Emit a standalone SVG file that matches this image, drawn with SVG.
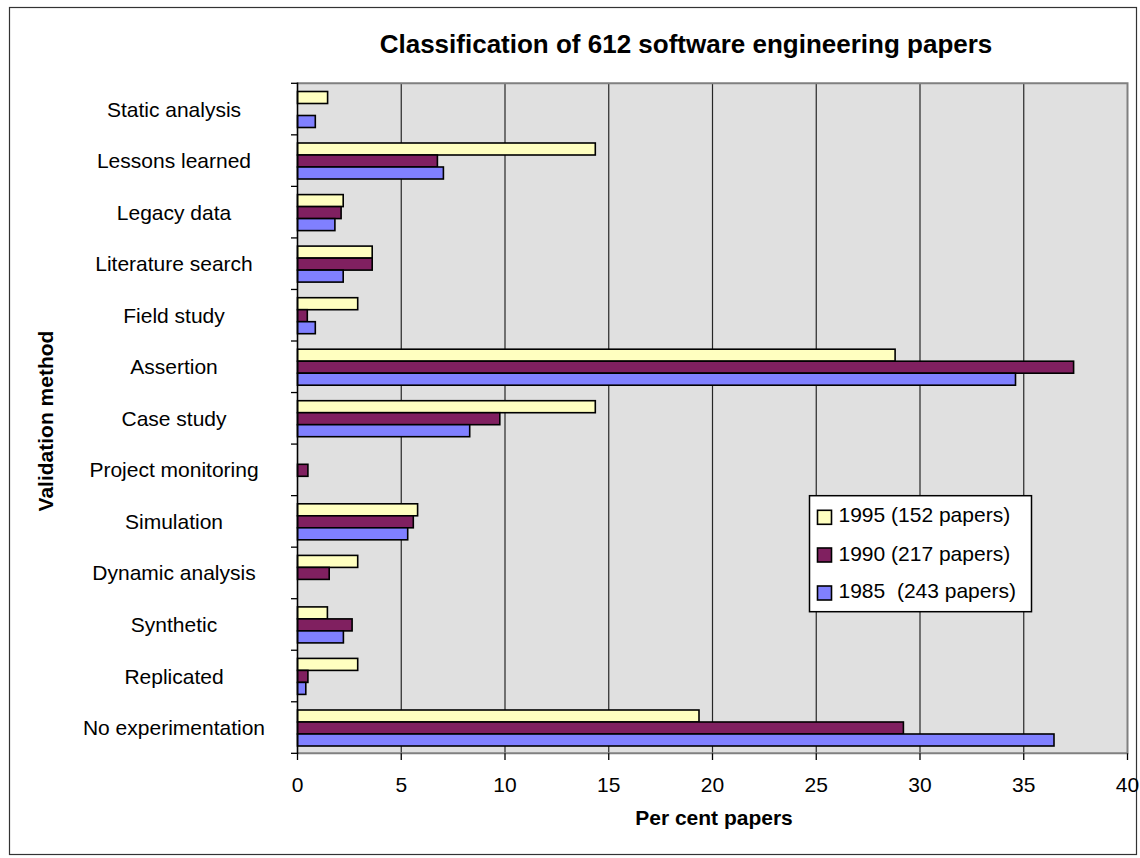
<svg xmlns="http://www.w3.org/2000/svg" width="1140" height="858" viewBox="0 0 1140 858">
  <style>
    .lbl { font-family: "Liberation Sans", Arial, sans-serif; font-size: 21px; fill: #000; }
    .cat { text-anchor: middle; }
    .num { text-anchor: middle; }
    .ttl { font-family: "Liberation Sans", Arial, sans-serif; font-weight: bold; fill: #000; }
    .grid { stroke: #262626; stroke-width: 1.2; }
    .tick { stroke: #000; stroke-width: 1.3; }
    .bar { stroke: #000; stroke-width: 1.6; }
    .y95 { fill: #FFFFC0; }
    .y90 { fill: #802060; }
    .y85 { fill: #8080FF; }
  </style>

  <!-- chart frame -->
  <rect x="0" y="0" width="1140" height="858" fill="#fff"/>
  <rect x="9.5" y="7.5" width="1127" height="847" fill="#fff" stroke="#333" stroke-width="1.2"/>

  <text class="ttl" x="686" y="52.5" font-size="26" text-anchor="middle">Classification of 612 software engineering papers</text>

  <!-- plot area -->
  <g id="plot-area">
    <rect x="297.5" y="83.3" width="830" height="670" fill="#E0E0E0"/>
    <g id="gridlines">
      <line class="grid" x1="401.25" y1="83.3" x2="401.25" y2="753.3"/>
      <line class="grid" x1="505" y1="83.3" x2="505" y2="753.3"/>
      <line class="grid" x1="608.75" y1="83.3" x2="608.75" y2="753.3"/>
      <line class="grid" x1="712.5" y1="83.3" x2="712.5" y2="753.3"/>
      <line class="grid" x1="816.25" y1="83.3" x2="816.25" y2="753.3"/>
      <line class="grid" x1="920" y1="83.3" x2="920" y2="753.3"/>
      <line class="grid" x1="1023.75" y1="83.3" x2="1023.75" y2="753.3"/>
    </g>
    <path d="M297.5 83.3 H1127.5 V753.3 H297.5" fill="none" stroke="#808080" stroke-width="2"/>
  </g>

  <!-- bars: 1995 / 1990 / 1985 -->
  <g id="series-1995">
    <rect class="bar y95" x="297.5" y="91.5" width="30.1" height="12"/>
    <rect class="bar y95" x="297.5" y="143.0" width="297.8" height="12"/>
    <rect class="bar y95" x="297.5" y="194.6" width="45.7" height="12"/>
    <rect class="bar y95" x="297.5" y="246.1" width="74.7" height="12"/>
    <rect class="bar y95" x="297.5" y="297.7" width="60.2" height="12"/>
    <rect class="bar y95" x="297.5" y="349.2" width="597.6" height="12"/>
    <rect class="bar y95" x="297.5" y="400.7" width="297.8" height="12"/>
    <rect class="bar y95" x="297.5" y="503.8" width="120.1" height="12"/>
    <rect class="bar y95" x="297.5" y="555.4" width="60.2" height="12"/>
    <rect class="bar y95" x="297.5" y="606.9" width="29.9" height="12"/>
    <rect class="bar y95" x="297.5" y="658.4" width="60.2" height="12"/>
    <rect class="bar y95" x="297.5" y="710.0" width="401.5" height="12"/>
  </g>
  <g id="series-1990">
    <rect class="bar y90" x="297.5" y="155.0" width="139.9" height="12"/>
    <rect class="bar y90" x="297.5" y="206.6" width="43.6" height="12"/>
    <rect class="bar y90" x="297.5" y="258.1" width="74.7" height="12"/>
    <rect class="bar y90" x="297.5" y="309.7" width="9.8" height="12"/>
    <rect class="bar y90" x="297.5" y="361.2" width="776.1" height="12"/>
    <rect class="bar y90" x="297.5" y="412.7" width="202.3" height="12"/>
    <rect class="bar y90" x="297.5" y="464.3" width="10.4" height="12"/>
    <rect class="bar y90" x="297.5" y="515.8" width="115.8" height="12"/>
    <rect class="bar y90" x="297.5" y="567.4" width="31.7" height="12"/>
    <rect class="bar y90" x="297.5" y="618.9" width="54.6" height="12"/>
    <rect class="bar y90" x="297.5" y="670.4" width="10.4" height="12"/>
    <rect class="bar y90" x="297.5" y="722.0" width="605.9" height="12"/>
  </g>
  <g id="series-1985">
    <rect class="bar y85" x="297.5" y="115.5" width="17.8" height="12"/>
    <rect class="bar y85" x="297.5" y="167.0" width="145.9" height="12"/>
    <rect class="bar y85" x="297.5" y="218.6" width="37.4" height="12"/>
    <rect class="bar y85" x="297.5" y="270.1" width="45.7" height="12"/>
    <rect class="bar y85" x="297.5" y="321.7" width="17.8" height="12"/>
    <rect class="bar y85" x="297.5" y="373.2" width="718" height="12"/>
    <rect class="bar y85" x="297.5" y="424.7" width="172.2" height="12"/>
    <rect class="bar y85" x="297.5" y="527.8" width="110.2" height="12"/>
    <rect class="bar y85" x="297.5" y="630.9" width="45.9" height="12"/>
    <rect class="bar y85" x="297.5" y="682.4" width="8.3" height="12"/>
    <rect class="bar y85" x="297.5" y="734.0" width="756.5" height="12"/>
  </g>

  <!-- axes -->
  <g id="axes">
    <line x1="297.5" y1="82.5" x2="297.5" y2="754" stroke="#000" stroke-width="1.6"/>
    <g id="y-ticks">
      <line class="tick" x1="291" y1="83.3" x2="297.5" y2="83.3"/>
      <line class="tick" x1="291" y1="134.84" x2="297.5" y2="134.84"/>
      <line class="tick" x1="291" y1="186.38" x2="297.5" y2="186.38"/>
      <line class="tick" x1="291" y1="237.92" x2="297.5" y2="237.92"/>
      <line class="tick" x1="291" y1="289.46" x2="297.5" y2="289.46"/>
      <line class="tick" x1="291" y1="341.0" x2="297.5" y2="341.0"/>
      <line class="tick" x1="291" y1="392.54" x2="297.5" y2="392.54"/>
      <line class="tick" x1="291" y1="444.08" x2="297.5" y2="444.08"/>
      <line class="tick" x1="291" y1="495.62" x2="297.5" y2="495.62"/>
      <line class="tick" x1="291" y1="547.16" x2="297.5" y2="547.16"/>
      <line class="tick" x1="291" y1="598.7" x2="297.5" y2="598.7"/>
      <line class="tick" x1="291" y1="650.24" x2="297.5" y2="650.24"/>
      <line class="tick" x1="291" y1="701.78" x2="297.5" y2="701.78"/>
      <line class="tick" x1="291" y1="753.32" x2="297.5" y2="753.32"/>
    </g>
    <g id="x-ticks">
      <line class="tick" x1="297.5" y1="753.3" x2="297.5" y2="760"/>
      <line class="tick" x1="401.25" y1="753.3" x2="401.25" y2="760"/>
      <line class="tick" x1="505" y1="753.3" x2="505" y2="760"/>
      <line class="tick" x1="608.75" y1="753.3" x2="608.75" y2="760"/>
      <line class="tick" x1="712.5" y1="753.3" x2="712.5" y2="760"/>
      <line class="tick" x1="816.25" y1="753.3" x2="816.25" y2="760"/>
      <line class="tick" x1="920" y1="753.3" x2="920" y2="760"/>
      <line class="tick" x1="1023.75" y1="753.3" x2="1023.75" y2="760"/>
      <line class="tick" x1="1127.5" y1="753.3" x2="1127.5" y2="760"/>
    </g>
  </g>

  <!-- category labels -->
  <g id="category-labels" class="lbl cat">
    <text x="174" y="116.6">Static analysis</text>
    <text x="174" y="168.1">Lessons learned</text>
    <text x="174" y="219.7">Legacy data</text>
    <text x="174" y="271.2">Literature search</text>
    <text x="174" y="322.7">Field study</text>
    <text x="174" y="374.3">Assertion</text>
    <text x="174" y="425.8">Case study</text>
    <text x="174" y="477.4">Project monitoring</text>
    <text x="174" y="528.9">Simulation</text>
    <text x="174" y="580.4">Dynamic analysis</text>
    <text x="174" y="632.0">Synthetic</text>
    <text x="174" y="683.5">Replicated</text>
    <text x="174" y="735.1">No experimentation</text>
  </g>

  <!-- value axis labels -->
  <g id="value-labels" class="lbl num">
    <text x="297.5" y="791.5">0</text>
    <text x="401.25" y="791.5">5</text>
    <text x="505" y="791.5">10</text>
    <text x="608.75" y="791.5">15</text>
    <text x="712.5" y="791.5">20</text>
    <text x="816.25" y="791.5">25</text>
    <text x="920" y="791.5">30</text>
    <text x="1023.75" y="791.5">35</text>
    <text x="1127.5" y="791.5">40</text>
  </g>

  <text class="ttl" x="714" y="825" font-size="21" text-anchor="middle">Per cent papers</text>
  <text class="ttl" x="0" y="0" font-size="21" text-anchor="middle" transform="translate(52.5 421) rotate(-90)">Validation method</text>

  <!-- legend -->
  <g id="legend">
    <rect x="809.5" y="495.7" width="222" height="116" fill="#fff" stroke="#000" stroke-width="1.5"/>
    <rect class="bar y95" x="817.5" y="510.3" width="14" height="14"/>
    <rect class="bar y90" x="817.5" y="548" width="14" height="14"/>
    <rect class="bar y85" x="817.5" y="586" width="14" height="14"/>
    <text class="lbl" x="838.5" y="521.7">1995 (152 papers)</text>
    <text class="lbl" x="838.5" y="560.5" xml:space="preserve">1990 (217 papers)</text>
    <text class="lbl" x="838.5" y="598.3" xml:space="preserve">1985  (243 papers)</text>
  </g>
</svg>
